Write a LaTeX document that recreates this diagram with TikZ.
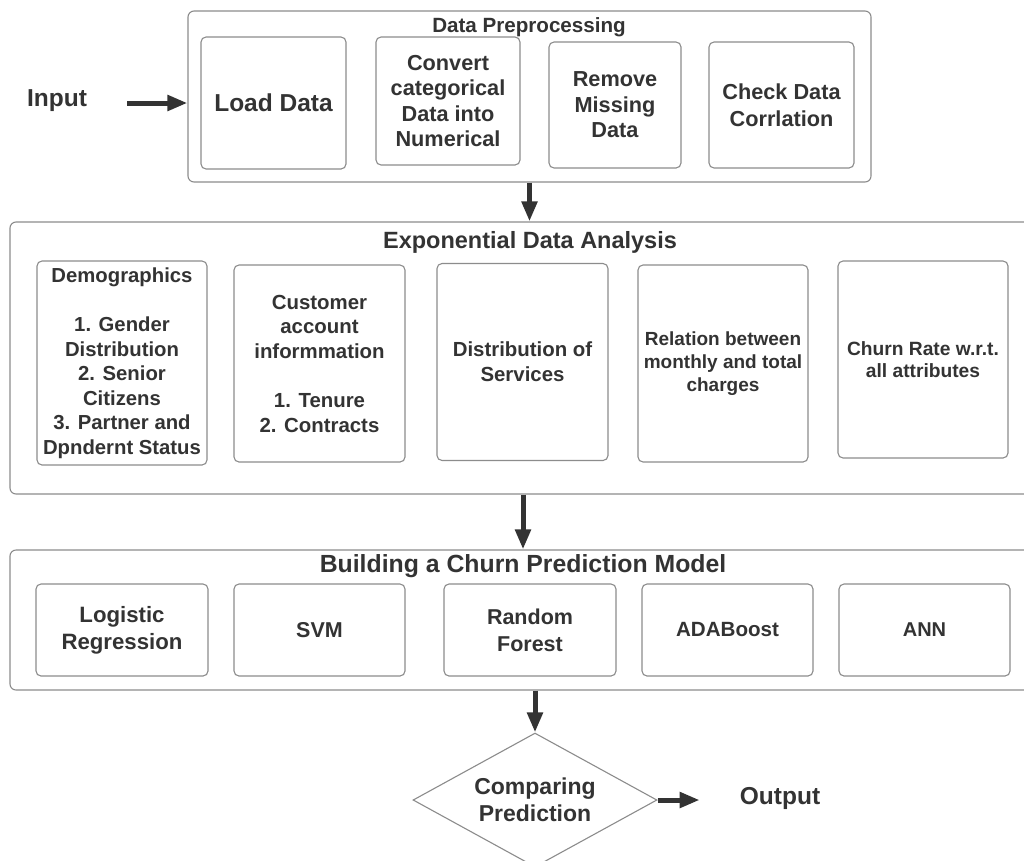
\documentclass[tikz,border=0pt]{standalone}
\usepackage{fontspec}
\setmainfont{Liberation Sans}
\usetikzlibrary{shapes.geometric,arrows.meta}
\definecolor{txt}{HTML}{333333}
\definecolor{edgegray}{HTML}{8C8C8C}
\newcommand{\fsz}[2]{\fontsize{#1}{#2}\selectfont}
\begin{document}
\begin{tikzpicture}[x=1pt,y=-1pt,
  box/.style={draw=edgegray,line width=1.1pt,rounded corners=5pt,inner sep=0pt,align=center,text=txt},
  group/.style={draw=edgegray,line width=1.1pt,rounded corners=6pt,inner sep=0pt},
  arr/.style={draw=txt,line width=5pt,-{Triangle[length=20pt,width=15pt]}},
  lbl/.style={inner sep=0pt,align=center,text=txt}]
\useasboundingbox (0,0) rectangle (1024,860);
\fill[white] (0,0) rectangle (1024,860);

% containers
\node[group,minimum width=683pt,minimum height=171pt] (prep) at (529.5,96.5) {};
\node[group,minimum width=1020pt,minimum height=272pt] (eda) at (520,358) {};
\node[group,minimum width=1020pt,minimum height=140pt] (model) at (520,620) {};

% titles
\node[lbl,font=\bfseries\fsz{20.6}{24}] (tprep) at (529,27) {Data Preprocessing};
\node[lbl,font=\bfseries\fsz{23.5}{28}] (teda) at (530,242) {Exponential Data Analysis};
\node[lbl,font=\bfseries\fsz{24.8}{29}] (tmodel) at (523,566) {Building a Churn Prediction Model};

% preprocessing boxes
\node[box,minimum width=145pt,minimum height=132pt,font=\bfseries\fsz{24.5}{29}] (load) at (273.5,103) {Load Data};
\node[box,minimum width=144pt,minimum height=128pt,font=\bfseries\fsz{21.7}{25.5}] (conv) at (448,101) {Convert\\categorical\\Data into\\Numerical};
\node[box,minimum width=132pt,minimum height=126pt,font=\bfseries\fsz{21.7}{25.5}] (remove) at (615,105) {Remove\\Missing\\Data};
\node[box,minimum width=145pt,minimum height=126pt,font=\bfseries\fsz{21.7}{26.5}] (check) at (781.5,105) {Check Data\\Corrlation};

% EDA boxes
\node[box,minimum width=170pt,minimum height=204pt,font=\bfseries\fsz{20.3}{24.5}] (demo) at (122,363)
  {Demographics\\[24.5pt]1. Gender\\Distribution\\2. Senior\\Citizens\\3. Partner and\\Dpndernt Status};
\node[box,minimum width=171pt,minimum height=197pt,font=\bfseries\fsz{20.4}{24.6}] (cust) at (319.5,363.5)
  {Customer\\account\\informmation\\[24.6pt]1. Tenure\\2. Contracts};
\node[box,minimum width=171pt,minimum height=197pt,font=\bfseries\fsz{20.4}{25}] (dist) at (522.5,362)
  {Distribution of\\Services};
\node[box,minimum width=170pt,minimum height=197pt,font=\bfseries\fsz{19}{23}] (rel) at (723,363.5)
  {Relation between\\monthly and total\\charges};
\node[box,minimum width=170pt,minimum height=197pt,font=\bfseries\fsz{19.2}{22.5}] (churn) at (923,359.5)
  {Churn Rate w.r.t.\\all attributes};

% model boxes
\node[box,minimum width=172pt,minimum height=92pt,font=\bfseries\fsz{22.2}{27}] (lr) at (122,630) {Logistic\\Regression};
\node[box,minimum width=171pt,minimum height=92pt,font=\bfseries\fsz{21.5}{27}] (svm) at (319.5,630) {SVM};
\node[box,minimum width=172pt,minimum height=92pt,font=\bfseries\fsz{21.5}{27}] (rf) at (530,630) {Random\\Forest};
\node[box,minimum width=171pt,minimum height=92pt,font=\bfseries\fsz{20.6}{27}] (ada) at (727.5,630) {ADABoost};
\node[box,minimum width=171pt,minimum height=92pt,font=\bfseries\fsz{20}{27}] (ann) at (924.5,630) {ANN};

% decision
\node[diamond,draw=edgegray,line width=1.1pt,aspect=1.82,minimum width=244pt,minimum height=134pt,inner sep=0pt,align=center,text=txt,font=\bfseries\fsz{23}{27}] (cmp) at (535,800) {Comparing\\Prediction};

% input / output
\node[lbl,font=\bfseries\fsz{24.5}{29}] (inp) at (57,101) {Input};
\node[lbl,font=\bfseries\fsz{24.5}{29}] (out) at (780,798) {Output};

% connectors
\draw[arr,shorten <=40pt] (inp.east |- 0,103) -- (prep.west |- 0,103);
\draw[arr] (prep.south) -- (prep.south |- eda.north);
\draw[arr] ([xshift=3pt]eda.south) -- ([xshift=3pt]eda.south |- model.north);
\draw[arr] (cmp.north |- model.south) -- (cmp.north);
\draw[arr,shorten >=40pt] (cmp.east) -- (out.west |- cmp.east);
\end{tikzpicture}
\end{document}
